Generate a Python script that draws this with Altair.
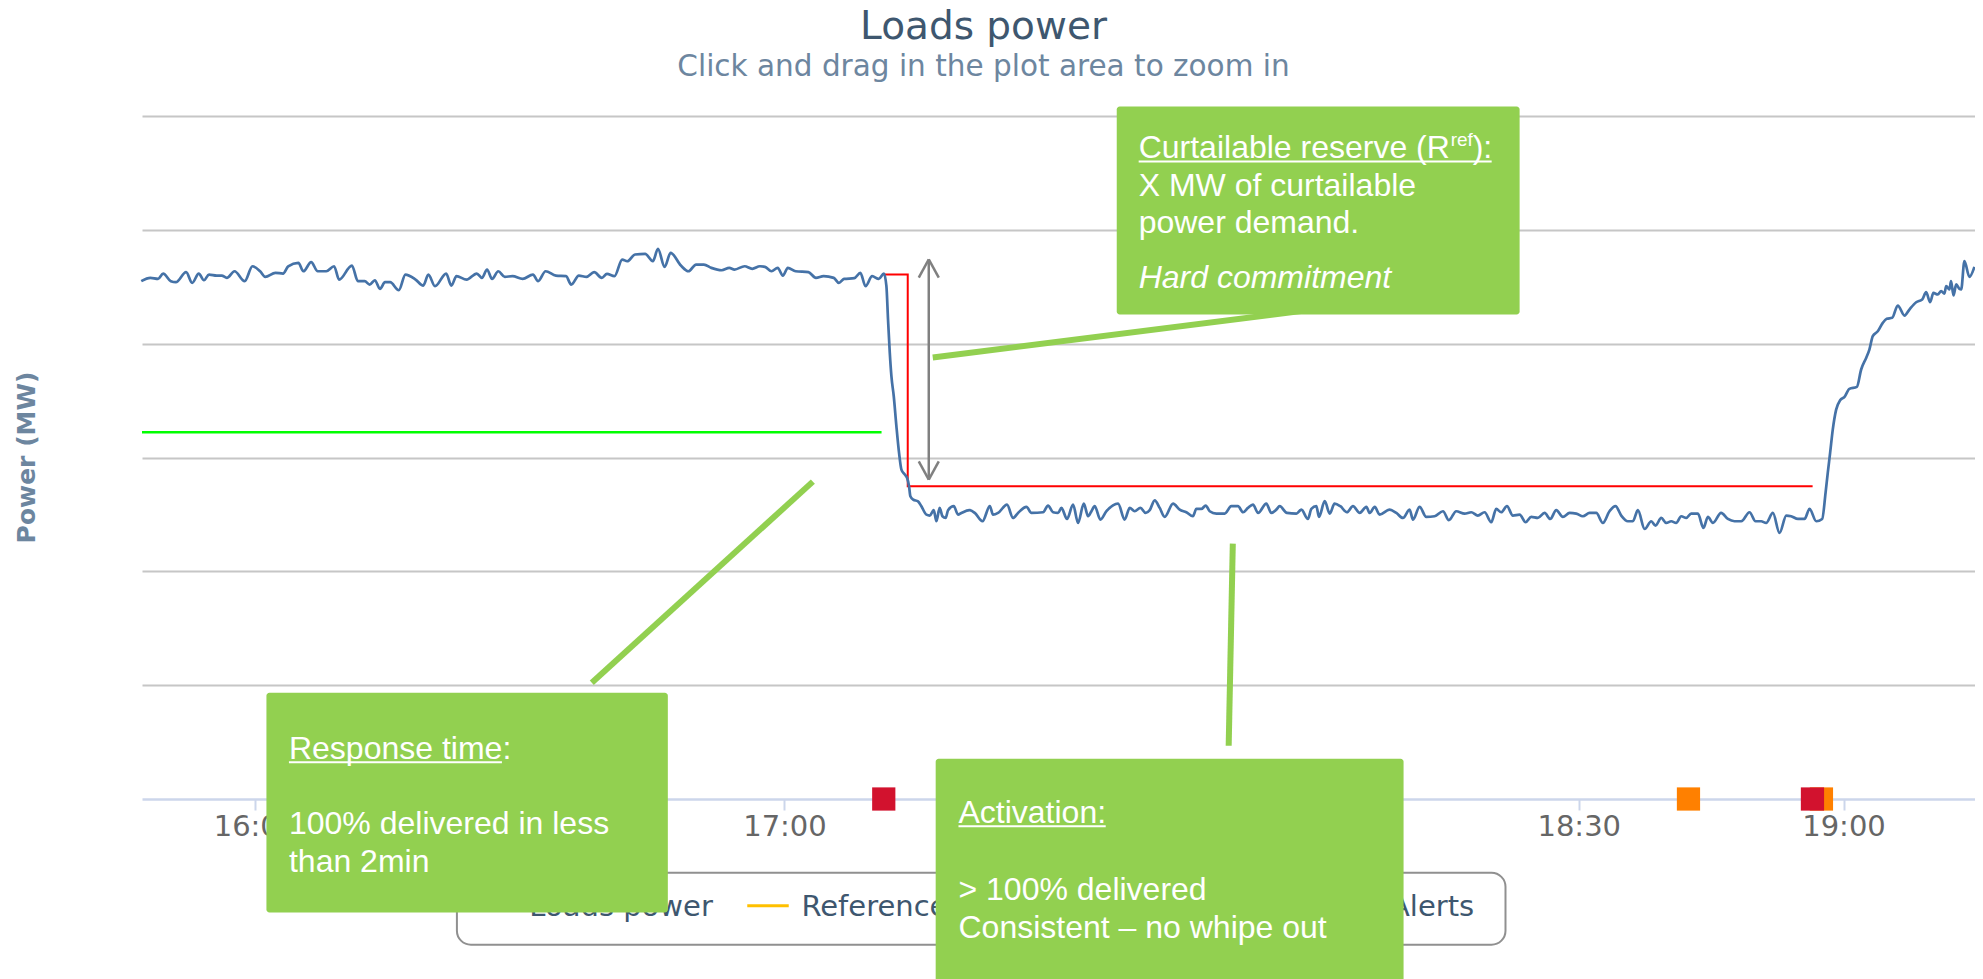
import altair as alt
import pandas as pd

# ---------------- data (minutes after 16:00, power in MW-units) ----------------
load_pre = [(-12.89,4.549),(-11.85,4.578),(-10.98,4.569),(-10.40,4.616),(-9.54,4.549),(-8.96,4.540),
            (-7.80,4.628),(-7.11,4.534),(-6.36,4.616),(-5.78,4.557),(-5.20,4.607),(-4.34,4.598),
            (-3.76,4.598),(-3.18,4.578),(-2.31,4.636),(-1.16,4.549),(-0.29,4.680),(0.58,4.636),
            (1.16,4.587),(2.31,4.622),(3.18,4.616),(3.76,4.680),(4.91,4.710),(5.49,4.636),
            (6.36,4.716),(7.11,4.636),(8.09,4.636),(8.96,4.680),(9.54,4.563),(10.98,4.686),
            (11.67,4.549),(12.43,4.549),(13.00,4.519),(13.58,4.557),(14.16,4.481),(14.74,4.540),
            (15.31,4.540),(16.30,4.470),(17.05,4.607),(18.20,4.563),(19.07,4.510),(19.65,4.607),
            (20.40,4.505),(21.67,4.616),(22.25,4.510),(22.83,4.593),(23.98,4.563),(25.14,4.616),
            (25.72,4.578),(26.30,4.651),(26.87,4.569),(27.57,4.636),(28.32,4.587),(29.19,4.593),
            (30.34,4.569),(31.50,4.607),(32.08,4.549),(32.94,4.636),(34.10,4.598),(35.25,4.593),
            (35.83,4.519),(36.70,4.598),(37.57,4.587),(38.43,4.628),(39.30,4.578),(39.88,4.613),
            (40.74,4.593),(41.61,4.739),(42.19,4.724),(43.06,4.783),(44.21,4.789),(45.08,4.724),
            (45.66,4.833),(46.41,4.675),(47.10,4.798),(48.26,4.686),(49.12,4.636),(49.99,4.695),
            (50.86,4.695),(51.72,4.666),(52.88,4.645),(53.75,4.666),(54.33,4.651),(55.48,4.680),
            (56.35,4.657),(57.21,4.680),(57.79,4.675),(58.54,4.636),(59.24,4.666),(59.82,4.598),
            (60.39,4.666),(61.26,4.636),(62.71,4.628),(63.57,4.578),(64.44,4.593),(65.59,4.578),
            (66.17,4.534),(66.75,4.569),(67.91,4.575),(68.60,4.622),(69.18,4.505),(69.93,4.593),
            (70.68,4.569),(71.26,4.616)]
load_drop = [(71.55,4.505),(71.74,4.212),(71.93,3.919),(72.12,3.714),(72.38,3.538),(72.69,3.274),
             (72.99,3.040),(73.25,2.894),(73.63,2.850),(73.90,2.820),(74.12,2.747),(74.27,2.659),
             (74.58,2.630),(75.14,2.615),(75.52,2.571),(76.09,2.498)]
load_act1 = [(76.46,2.490),(76.91,2.537),(77.22,2.440),(77.59,2.557),(77.90,2.484),(78.27,2.469),
             (78.54,2.537),(79.18,2.572),(79.67,2.498),(80.05,2.513),(80.99,2.537),(81.56,2.513),
             (82.43,2.440),(83.26,2.572),(83.64,2.498),(84.20,2.513),(85.22,2.586),(85.90,2.469),
             (86.47,2.513),(87.41,2.566),(87.98,2.513),(89.30,2.519),(89.87,2.578),(90.43,2.519),
             (91.00,2.513),(91.38,2.557),(92.02,2.460),(92.70,2.586),(93.27,2.425),(93.91,2.595),
             (94.40,2.484),(94.78,2.528),(95.15,2.572),(95.80,2.455),(96.48,2.528),(97.80,2.595),
             (98.55,2.455),(99.12,2.557),(99.69,2.528),(100.33,2.557),(100.93,2.513),(101.38,2.537),
             (101.95,2.624),(102.52,2.557),(103.08,2.478),(104.03,2.595),(104.78,2.542),(105.54,2.519),
             (106.29,2.484),(106.67,2.548),(107.24,2.548),(107.73,2.578),(108.18,2.528),(108.94,2.507),
             (109.88,2.507),(110.64,2.572),(111.39,2.572),(111.96,2.519),(112.52,2.557),(113.09,2.586),
             (113.66,2.513),(114.60,2.595),(115.17,2.513),(115.73,2.542),(116.11,2.572),(116.94,2.513),
             (118.00,2.507),(118.57,2.542),(119.32,2.460),(119.70,2.548),(120.27,2.572),(120.57,2.478),
             (121.21,2.616),(121.78,2.507),(122.34,2.595),(122.99,2.572),(123.74,2.519),(124.42,2.572),
             (125.18,2.513),(125.93,2.566),(126.31,2.513),(126.88,2.566),(127.44,2.499),(128.57,2.542),
             (129.33,2.513),(130.09,2.469),(130.84,2.542)]
load_act2 = [(131.21,2.455),(131.97,2.566),(132.72,2.478),(133.67,2.484),(134.61,2.528),(135.29,2.449),
             (136.12,2.528),(137.06,2.507),(137.82,2.519),(138.57,2.490),(139.33,2.519),(140.09,2.431),
             (140.65,2.548),(141.22,2.519),(141.86,2.572),(142.54,2.490),(143.30,2.498),(143.98,2.431),
             (144.62,2.478),(145.37,2.469),(146.13,2.513),(146.77,2.460),(147.45,2.537),(148.20,2.478),
             (148.96,2.513),(149.72,2.507),(150.47,2.484),(151.23,2.513),(151.98,2.513),(152.74,2.425),
             (153.49,2.528),(154.17,2.572),(154.81,2.490),(155.57,2.440),(156.14,2.440),(156.70,2.537),
             (157.46,2.372),(158.21,2.440),(158.70,2.402),(159.35,2.469),(159.91,2.425),(160.48,2.440),
             (161.04,2.425),(161.61,2.484),(162.18,2.469),(162.74,2.507),(163.50,2.507),(164.14,2.381),
             (164.63,2.478),(165.20,2.425),(166.14,2.513),(166.90,2.460),(167.65,2.440),(168.41,2.440),
             (169.35,2.519),(170.03,2.440),(170.67,2.440),(171.24,2.425),(172.00,2.513),(172.75,2.337),
             (173.51,2.490),(174.07,2.484),(174.83,2.460),(175.58,2.460),(176.15,2.548),(176.91,2.440),
             (177.59,2.460)]
load_rise = [(177.96,2.689),(178.22,2.865),(178.48,3.040),(178.79,3.245),(179.16,3.421),(179.62,3.503),
             (180.11,3.532),(180.67,3.603),(181.51,3.620),(182.00,3.773),(182.56,3.875),(182.94,3.948),
             (183.32,4.066),(183.88,4.109),(184.45,4.183),(184.90,4.218),(185.51,4.227),(186.15,4.335),
             (186.91,4.247),(187.47,4.300),(188.23,4.364),(188.91,4.388),(189.36,4.452),(189.81,4.364),
             (190.19,4.446),(190.68,4.432),(191.06,4.461),(191.44,4.440),(191.63,4.505),(192.00,4.476),
             (192.19,4.549),(192.46,4.423),(192.76,4.520),(193.14,4.481),(193.33,4.476),(193.70,4.725),
             (194.27,4.587),(194.84,4.675)]

reference = [(71.36,4.607),(73.97,4.607),(73.97,2.747),(176.50,2.747)]
baseline = [(-12.8,3.222),(71.0,3.222)]
alerts = [(162.44,"warning"),(177.50,"warning"),(71.25,"alarm"),(176.49,"alarm")]

BASE = pd.Timestamp("2020-01-01 16:00:00")


def ts(m):
    return (BASE + pd.Timedelta(seconds=round(m * 60))).strftime("%Y-%m-%dT%H:%M:%S")


def series(pairs):
    return pd.DataFrame({"t": [ts(m) for m, _ in pairs], "v": [v for _, v in pairs]})


def segs(rows):
    return pd.DataFrame({"t": [ts(r[0]) for r in rows], "v": [r[1] for r in rows],
                         "t2": [ts(r[2]) for r in rows], "v2": [r[3] for r in rows]})


load_df = series(load_pre + load_drop + load_act1 + load_act2 + load_rise)
ref_df = series(reference)
base_df = series(baseline)
alert_df = pd.DataFrame({"t": [ts(m) for m, _ in alerts], "v": [0.0] * len(alerts),
                         "kind": [k for _, k in alerts]})

# ---------------- annotation geometry (in data units) ----------------
arrow = [(76.35,4.74,76.35,2.806),
         (76.35,4.74,75.22,4.58),(76.35,4.74,77.48,4.58),
         (76.35,2.806,75.22,2.966),(76.35,2.806,77.48,2.966)]
callouts = [(76.80,3.878,119.85,4.30),(63.21,2.788,38.17,1.022),(110.80,2.243,110.33,0.468)]
boxes = [(97.65,4.256,143.30,6.083),(1.30,-0.998,46.78,0.934),(77.14,-1.80,130.15,0.354)]
underlines = [(100.14,5.600,140.13,5.600),(3.85,0.322,27.98,0.322),(79.71,-0.240,96.40,-0.240)]
box_text = [(100.14,5.633,"Curtailable reserve (R"),(100.14,5.299,"X MW of curtailable"),
            (100.14,4.974,"power demand."),
            (3.85,0.354,"Response time:"),(3.85,-0.305,"100% delivered in less"),(3.85,-0.638,"than 2min"),
            (79.71,-0.208,"Activation:"),(79.71,-0.885,"> 100% delivered"),
            (79.71,-1.219,"Consistent \u2013 no whipe out")]
italic_text = [(100.14,4.493,"Hard commitment")]
legend_box = [(22.88,-1.280,141.70,-0.648)]
legend_ref_symbol = [(55.79,-0.938,60.49,-0.938)]
legend_right = [(51.88,-1.032,"Loads power"),(138.15,-1.032,"Alerts")]
legend_left = [(61.91,-1.032,"Reference")]


def texts(rows):
    return pd.DataFrame({"t": [ts(r[0]) for r in rows], "v": [r[1] for r in rows],
                         "label": [r[2] for r in rows]})


# ---------------- scales / axes ----------------
def dt(h, m, s=0):
    return alt.DateTime(year=2020, month=1, date=1, hours=h, minutes=m, seconds=s)


xs = alt.Scale(domain=[dt(15, 47, 12), dt(19, 14, 54)], nice=False)
ys = alt.Scale(domain=[0, 6], nice=False, zero=False)
xaxis = alt.Axis(values=[dt(16, 0), dt(16, 30), dt(17, 0), dt(17, 30), dt(18, 0), dt(18, 30), dt(19, 0)],
                 format="%H:%M", title=None, grid=False, labelFont="DejaVu Sans", labelFontSize=29,
                 labelColor="#666666", labelPadding=2, tickSize=11, tickWidth=2, tickColor="#ccd6eb",
                 domainColor="#ccd6eb", domainWidth=2.5, labelFlush=False, labelOverlap=False)
yaxis = alt.Axis(values=[1, 2, 3, 4, 5, 6], labels=False, ticks=False, domain=False, grid=True,
                 gridColor="#c6c6c6", gridWidth=2, title="Power (MW)", titleFont="DejaVu Sans",
                 titleFontSize=25, titleFontWeight="bold", titleColor="#6d869f", titleX=-108,
                 titleY=341, titleAngle=270, titleAlign="center", titleBaseline="alphabetic")


def X():
    return alt.X("t:T", scale=xs, axis=xaxis)


def Y():
    return alt.Y("v:Q", scale=ys, axis=yaxis)


def rule_layer(rows, color, width):
    return alt.Chart(segs(rows)).mark_rule(color=color, strokeWidth=width, strokeCap="butt").encode(
        x=X(), y=Y(), x2="t2:T", y2="v2:Q")


green = "#92d050"

baseline_layer = alt.Chart(base_df).mark_line(color="#00ff00", strokeWidth=2.5).encode(x=X(), y=Y())
ref_layer = alt.Chart(ref_df).mark_line(color="#ff0000", strokeWidth=2).encode(x=X(), y=Y())
load_layer = alt.Chart(load_df).mark_line(color="#4572a7", strokeWidth=2.7,
                                          interpolate="monotone").encode(x=X(), y=Y())
arrow_layer = rule_layer(arrow, "#808080", 2.5)
alert_layer = alt.Chart(alert_df).mark_point(shape="square", filled=True, size=540, opacity=1).encode(
    x=X(), y=Y(),
    color=alt.Color("kind:N", scale=alt.Scale(domain=["warning", "alarm"], range=["#ff8000", "#d2122e"]),
                    legend=None))

legend_rect = alt.Chart(segs(legend_box)).mark_rect(fill="white", stroke="#909090", strokeWidth=2,
                                                    cornerRadius=14).encode(
    x=X(), y=Y(), x2="t2:T", y2="v2:Q")
legend_sym = rule_layer(legend_ref_symbol, "#ffc000", 3)
legend_t1 = alt.Chart(texts(legend_right)).mark_text(align="right", baseline="alphabetic",
                                                    font="DejaVu Sans", fontSize=29, color="#3e576f").encode(
    x=X(), y=Y(), text="label:N")
legend_t2 = alt.Chart(texts(legend_left)).mark_text(align="left", baseline="alphabetic",
                                                   font="DejaVu Sans", fontSize=29, color="#3e576f").encode(
    x=X(), y=Y(), text="label:N")

callout_layer = rule_layer(callouts, green, 6)
box_layer = alt.Chart(segs(boxes)).mark_rect(color=green, cornerRadius=3).encode(
    x=X(), y=Y(), x2="t2:T", y2="v2:Q")
text_layer = alt.Chart(texts(box_text)).mark_text(align="left", baseline="alphabetic",
                                                 font="Liberation Sans", fontSize=32, color="white").encode(
    x=X(), y=Y(), text="label:N")
italic_layer = alt.Chart(texts(italic_text)).mark_text(align="left", baseline="alphabetic",
                                                      font="Liberation Sans", fontSize=32, fontStyle="italic",
                                                      color="white").encode(x=X(), y=Y(), text="label:N")
sup_layer = alt.Chart(texts([(100.14, 5.633, "ref")])).mark_text(
    align="left", baseline="alphabetic", font="Liberation Sans", fontSize=19, color="white",
    dx=312, dy=-12).encode(x=X(), y=Y(), text="label:N")
close_layer = alt.Chart(texts([(100.14, 5.633, "):")])).mark_text(
    align="left", baseline="alphabetic", font="Liberation Sans", fontSize=32, color="white",
    dx=334).encode(x=X(), y=Y(), text="label:N")
underline_layer = rule_layer(underlines, "white", 2)

chart = alt.layer(
    baseline_layer, ref_layer, load_layer, arrow_layer, alert_layer,
    legend_rect, legend_sym, legend_t1, legend_t2,
    callout_layer, box_layer, text_layer, italic_layer, sup_layer, close_layer, underline_layer,
).properties(
    width=1833, height=683,
    background="white",
    padding={"left": 134, "top": 108, "right": 0, "bottom": 190},
    autosize=alt.AutoSizeParams(type="none"),
    title=alt.TitleParams(text="Loads power", subtitle="Click and drag in the plot area to zoom in",
                          font="DejaVu Sans", fontSize=39, fontWeight="normal", color="#3e576f",
                          subtitleFont="DejaVu Sans", subtitleFontSize=29.5, subtitleColor="#6d869f",
                          anchor="middle", dx=-75, offset=25, subtitlePadding=6),
).configure_view(stroke=None)

chart.save("out.html", embed_options={"renderer": "svg", "actions": False})
